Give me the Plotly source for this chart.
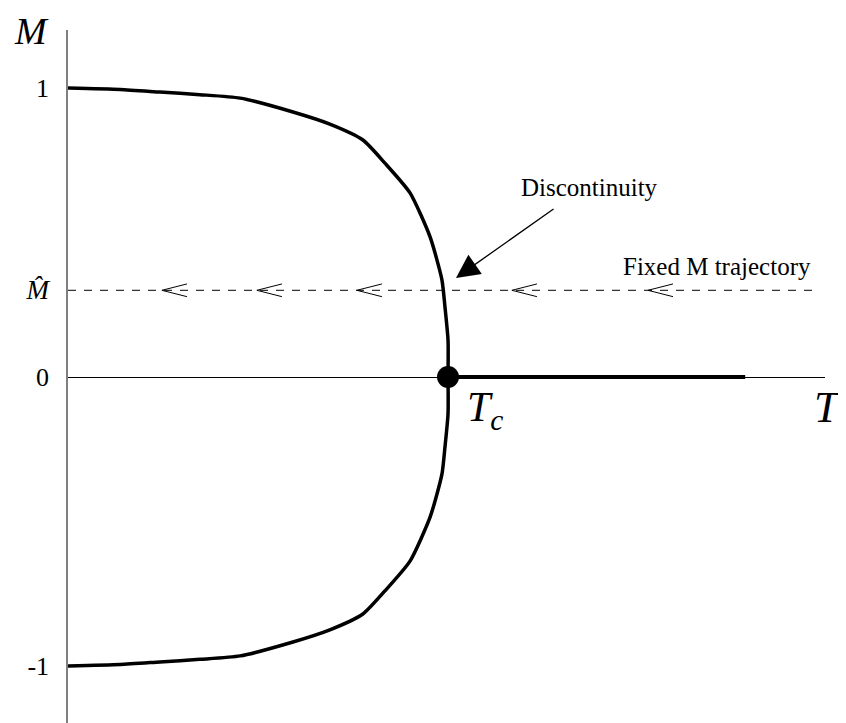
import plotly.graph_objects as go

# upper branch of the magnetisation curve (T, M); the lower branch is its mirror image
curve_T = [0, 0.137, 0.242, 0.347, 0.453, 0.592, 0.689, 0.776, 0.834, 0.900, 0.953, 0.984, 0.992, 1.0, 1.0]
curve_M = [1.0, 0.995, 0.986, 0.977, 0.965, 0.917, 0.875, 0.820, 0.740, 0.637, 0.484, 0.336, 0.242, 0.128, 0.0]

# critical point and the M = 0 branch above Tc
Tc = 1.0
high_T = [1.0, 1.782]
high_M = [0.0, 0.0]

# fixed-M trajectory and the positions of its direction chevrons
M_hat = 0.30
traj_T = [0.0, 1.96]
chevron_T = [0.247, 0.497, 0.76, 1.168, 1.526]

# axis ticks
tick_vals = [1, M_hat, 0, -1]
tick_text = ["1", "<span style='font-size:27px'><i>M\u0302</i></span>", "0", "-1"]

SERIF = "Liberation Serif, Times New Roman, serif"
BLACK = "#000000"

fig = go.Figure()

# upper and lower branches
fig.add_trace(go.Scatter(x=curve_T, y=curve_M, mode="lines",
                         line=dict(color=BLACK, width=3.5, shape="spline", smoothing=0.6),
                         hoverinfo="skip"))
fig.add_trace(go.Scatter(x=curve_T, y=[-m for m in curve_M], mode="lines",
                         line=dict(color=BLACK, width=3.5, shape="spline", smoothing=0.6),
                         hoverinfo="skip"))

# thick M = 0 line
fig.add_trace(go.Scatter(x=high_T, y=high_M, mode="lines",
                         line=dict(color=BLACK, width=4), hoverinfo="skip"))

# dashed fixed-M trajectory
fig.add_trace(go.Scatter(x=traj_T, y=[M_hat, M_hat], mode="lines",
                         line=dict(color=BLACK, width=1, dash="8px,8px"), hoverinfo="skip"))

# open chevrons "<" along the trajectory
dx, dy = 0.066, 0.022
cx, cy = [], []
for t in chevron_T:
    cx += [t + dx, t, t + dx, None]
    cy += [M_hat + dy, M_hat, M_hat - dy, None]
fig.add_trace(go.Scatter(x=cx, y=cy, mode="lines",
                         line=dict(color=BLACK, width=1), hoverinfo="skip"))

# critical point
fig.add_trace(go.Scatter(x=[Tc], y=[0], mode="markers",
                         marker=dict(color=BLACK, size=22), hoverinfo="skip"))

annotations = [
    dict(x=2.0, y=-0.107, text="<i>T</i>", font=dict(size=44), xref="paper", yref="paper"),
    dict(x=1.097, y=-0.114, text="<i>T<sub>c</sub></i>", font=dict(size=42)),
    dict(x=1.372, y=0.657, text="Discontinuity", font=dict(size=25)),
    dict(x=1.709, y=0.384, text="Fixed M trajectory", font=dict(size=25)),
]
x_rng = [0, 1.992]
y_rng = [-1.1972, 1.2007]
for a in annotations:
    if a.get("xref") == "paper":
        # labels outside the plotting area: convert data position to paper fraction
        a["x"] = (a["x"] - x_rng[0]) / (x_rng[1] - x_rng[0])
        a["y"] = (a["y"] - y_rng[0]) / (y_rng[1] - y_rng[0])
    else:
        a.update(xref="x", yref="y")
    a.update(showarrow=False, xanchor="center", yanchor="middle")
    a["font"].update(family=SERIF, color=BLACK)

# axis name M, hung from the top edge of the figure
annotations.append(dict(x=-0.095 / (x_rng[1] - x_rng[0]), y=1.0, xref="paper", yref="paper",
                        yshift=22, xanchor="center", yanchor="top", showarrow=False,
                        text="<i>M</i>", font=dict(family=SERIF, size=38, color=BLACK)))

# arrow pointing at the discontinuity
annotations.append(dict(x=1.021, y=0.343, ax=1.2816, ay=0.585, xref="x", yref="y",
                        axref="x", ayref="y", text="", showarrow=True,
                        arrowhead=2, arrowsize=3.6, arrowwidth=1.3, arrowcolor=BLACK))

# the page adds an 8px body margin, so the figure is shrunk to fit the window
fig.update_layout(
    width=838, height=715,
    margin=dict(l=60, r=21, t=22, b=0),
    paper_bgcolor="white", plot_bgcolor="white",
    showlegend=False,
    annotations=annotations,
    xaxis=dict(range=x_rng, showgrid=False, zeroline=False, showline=False,
               showticklabels=False, ticks="", fixedrange=True),
    yaxis=dict(range=y_rng, showgrid=False,
               zeroline=True, zerolinecolor=BLACK, zerolinewidth=1,
               showline=True, linecolor="#808080", linewidth=1.5,
               tickmode="array", tickvals=tick_vals, ticktext=tick_text,
               ticks="", ticklabelstandoff=12,
               tickfont=dict(family=SERIF, size=26, color=BLACK), fixedrange=True),
)

fig.write_html("out.html")
